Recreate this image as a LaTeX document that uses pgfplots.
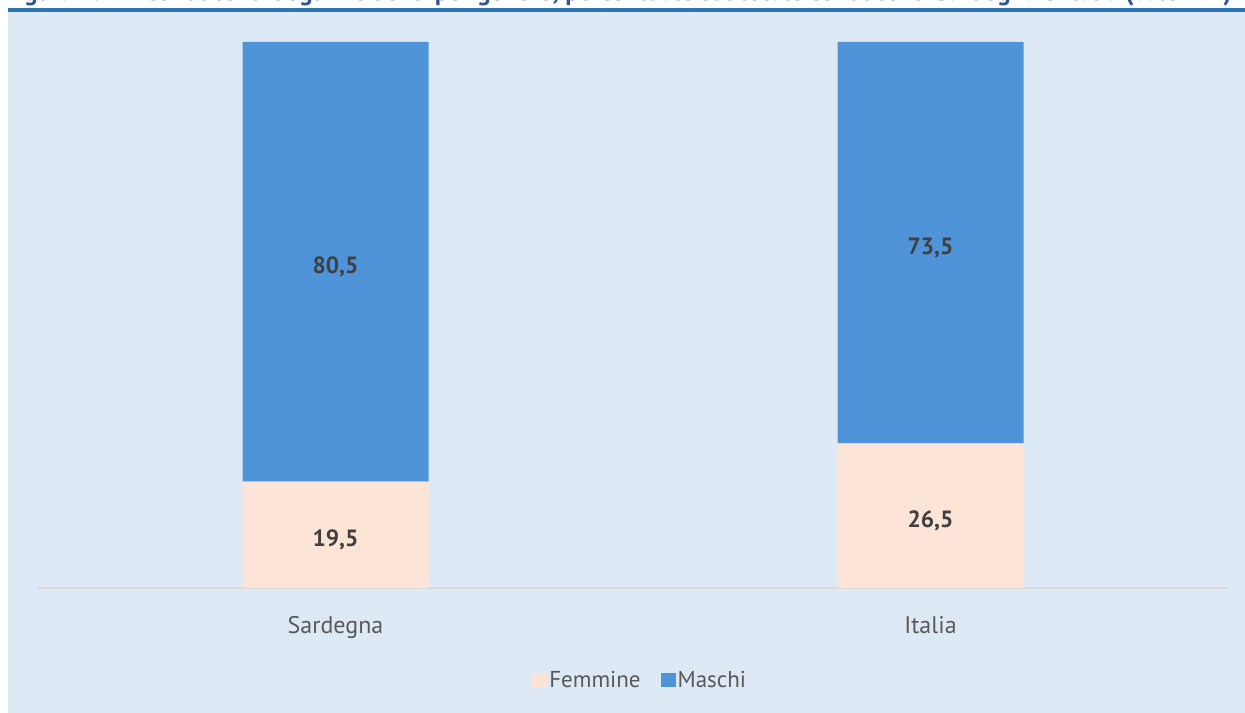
\documentclass[border=0pt]{standalone}
\usepackage{fontspec}
\setmainfont{PT Sans}
\usepackage{pgfplots}
\pgfplotsset{compat=1.18}
\definecolor{bg}{HTML}{DDEAF6}
\definecolor{topline}{HTML}{2E75B6}
\definecolor{maschi}{HTML}{4F94D9}
\definecolor{femmine}{HTML}{FCE4D6}
\definecolor{txt}{HTML}{595959}
\definecolor{lab}{HTML}{404040}
\definecolor{titleblue}{HTML}{2F5597}
\definecolor{baseline}{HTML}{D9D9D9}
\begin{document}
\begin{tikzpicture}
\begin{scope}[x=1bp,y=1bp]
\path[use as bounding box] (0,0) rectangle (1245,713);
\fill[white] (0,0) rectangle (1245,713);
\fill[bg] (8,0) rectangle (1245,701);
\fill[topline] (8,701) rectangle (1245,705);
\begin{scope}
\clip (0,705) rectangle (1245,713);
\node[anchor=base west, font=\bfseries\fontsize{25.5bp}{30bp}\selectfont, text=titleblue, inner sep=0] at (4,712.3) {Figura 4.2 -- Conducenti degli incidenti per genere, percentuale sul totale conducenti Sardegna e Italia (valori \%)};
\end{scope}
\end{scope}
\pgfplotsset{commonax/.style={
  at={(38bp,125bp)}, anchor=south west, scale only axis,
  width=1190bp, height=546bp,
  xmin=-0.5, xmax=1.5, ymin=0, ymax=100,
}}
\begin{axis}[commonax,
  ybar stacked, bar width=186bp,
  xtick={0,1}, xticklabels={Sardegna,Italia},
  axis x line*=bottom, axis y line=none,
  x axis line style={draw=baseline, line width=2bp},
  major tick length=0,
  xticklabel style={font=\fontsize{24bp}{28bp}\selectfont, text=txt, yshift=-25bp},
  legend style={at={(0.506,-0.1685)}, anchor=center, draw=none, fill=none,
    legend columns=2, font=\fontsize{23bp}{27bp}\selectfont, text=txt,
    /tikz/every even column/.append style={column sep=18bp}},
  legend image code/.code={\fill[#1] (0bp,-7bp) rectangle (15bp,7bp);},
]
\addplot[fill=femmine, draw=none] coordinates {(0,19.5) (1,26.5)};
\addlegendentry{Femmine}
\addplot[fill=maschi, draw=none] coordinates {(0,80.5) (1,73.5)};
\addlegendentry{Maschi}
\end{axis}
\begin{axis}[commonax, hide axis,
  nodes near coords, point meta=explicit symbolic,
  every node near coord/.append style={anchor=center, font=\bfseries\fontsize{23.5bp}{27bp}\selectfont, text=lab},
]
\addplot[only marks, mark=none] coordinates {(0,8.8) [19,5] (0,58.8) [80,5] (1,12.3) [26,5] (1,62.3) [73,5]};
\end{axis}
\end{tikzpicture}
\end{document}
